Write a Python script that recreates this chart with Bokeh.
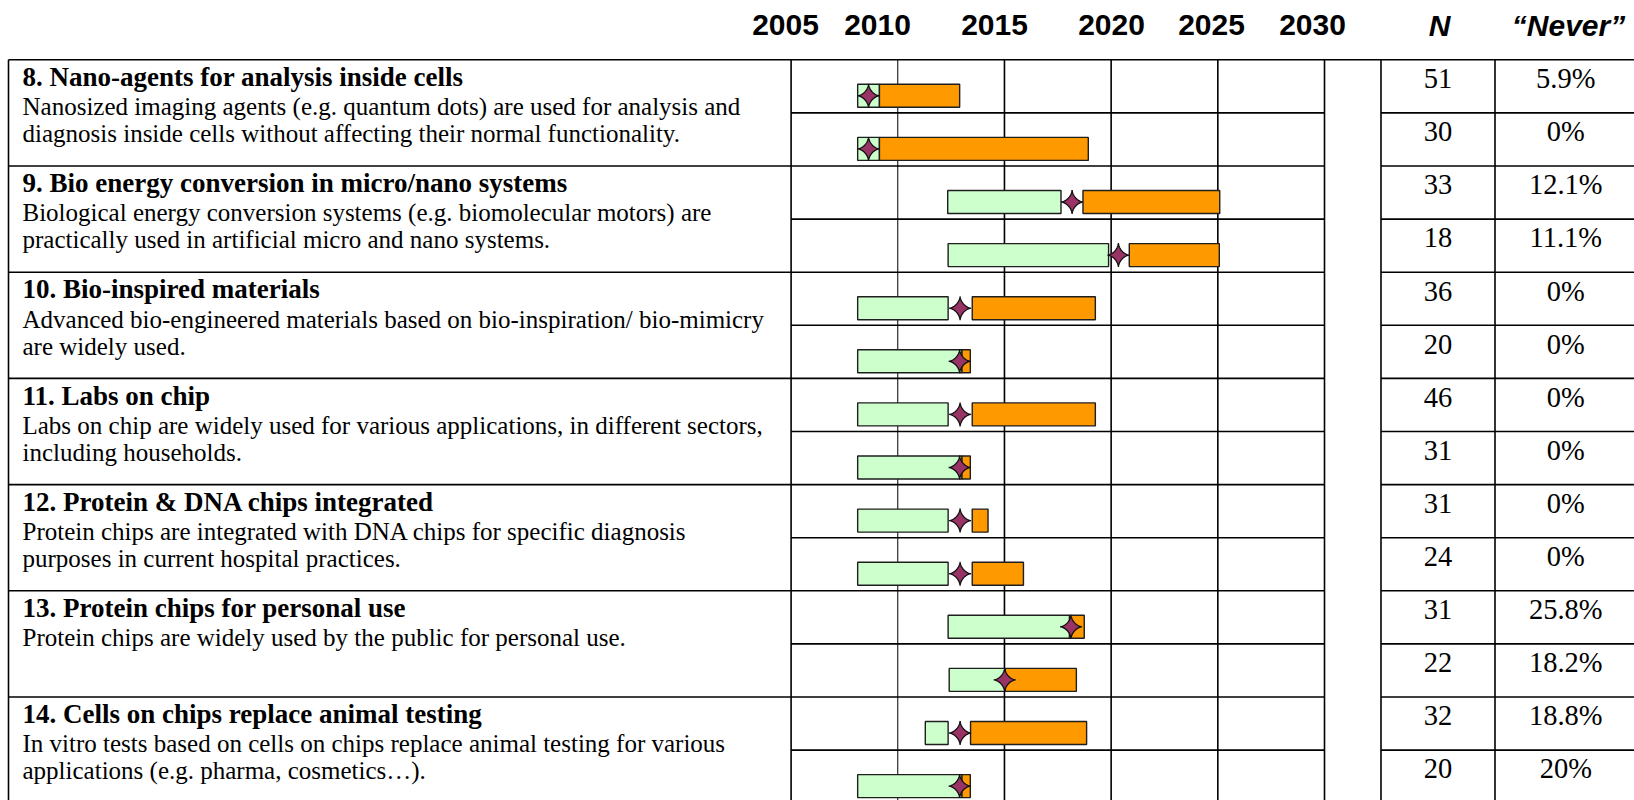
import numpy as np
from bokeh.plotting import figure
from bokeh.models import Range1d
from bokeh.core.properties import value
from bokeh.embed import file_html
from bokeh.resources import INLINE

# ---------------- data ----------------
titles = [
    "8. Nano-agents for analysis inside cells",
    "9. Bio energy conversion in micro/nano systems",
    "10. Bio-inspired materials",
    "11. Labs on chip",
    "12. Protein & DNA chips integrated",
    "13. Protein chips for personal use",
    "14. Cells on chips replace animal testing",
]
descriptions = [
    ["Nanosized imaging agents (e.g. quantum dots) are used for analysis and",
     "diagnosis inside cells without affecting their normal functionality."],
    ["Biological energy conversion systems (e.g. biomolecular motors) are",
     "practically used in artificial micro and nano systems."],
    ["Advanced bio-engineered materials based on bio-inspiration/ bio-mimicry",
     "are widely used."],
    ["Labs on chip are widely used for various applications, in different sectors,",
     "including households."],
    ["Protein chips are integrated with DNA chips for specific diagnosis",
     "purposes in current hospital practices."],
    ["Protein chips are widely used by the public for personal use."],
    ["In vitro tests based on cells on chips replace animal testing for various",
     "applications (e.g. pharma, cosmetics\u2026)."],
]
n_resp = [51, 30, 33, 18, 36, 20, 46, 31, 31, 24, 31, 22, 32, 20]
never_pct = ["5.9%", "0%", "12.1%", "11.1%", "0%", "0%", "0%", "0%",
             "0%", "0%", "25.8%", "18.2%", "18.8%", "20%"]

green_start = [2008.12, 2008.12, 2012.34, 2012.36, 2008.12, 2008.12, 2008.12,
               2008.12, 2008.12, 2008.12, 2012.36, 2012.41, 2011.29, 2008.12]
green_end = [2009.14, 2009.14, 2017.65, 2019.88, 2012.36, 2013.01, 2012.36,
             2013.01, 2012.36, 2012.36, 2018.05, 2015.04, 2012.36, 2013.01]
star_year = [2008.63, 2008.63, 2018.17, 2020.34, 2012.92, 2012.90, 2012.92,
             2012.90, 2012.92, 2012.92, 2018.12, 2015.01, 2012.92, 2012.90]
orange_start = [2009.14, 2009.14, 2018.68, 2020.85, 2013.49, 2013.01, 2013.49,
                2013.01, 2013.49, 2013.49, 2018.05, 2015.04, 2013.41, 2013.01]
orange_end = [2012.90, 2018.93, 2025.09, 2025.07, 2019.26, 2013.40, 2019.26,
              2013.40, 2014.23, 2015.89, 2018.74, 2018.37, 2018.85, 2013.40]

year_ticks = [2005, 2010, 2015, 2020, 2025, 2030]
year_labels = ["2005", "2010", "2015", "2020", "2025", "2030"]
col_labels = ["N", "\u201cNever\u201d"]

# ---------------- layout (page pixels) ----------------
W, H = 1634, 800
X0, Y0 = 0, 0
X_LEFT = 8.0
X2005, X2030 = 790.6, 1324.0
X_NCOL, X_NEVER, X_RIGHT = 1380.5, 1494.5, 1636.0
Y_TOP = 59.3
ROW_H = 53.1
BAR_OFF = 36.0
BAR_H = 23.0
HDR_BASE = 24.8
TITLE_OFF, DESC_OFF, DESC_STEP = 17.2, 46.8, 27.0
NUM_OFF = 18.8
hdr_year_x = [785, 877, 994, 1111, 1211, 1312]
hdr_col_x = [1439, 1568]

PX_PER_YEAR = (X2030 - X2005) / (year_ticks[-1] - year_ticks[0])
yr_start = year_ticks[0] + (X0 - X2005) / PX_PER_YEAR
yr_end = year_ticks[0] + (X0 + W - X2005) / PX_PER_YEAR

p = figure(width=W, height=H, x_range=Range1d(X0, X0 + W), y_range=Range1d(Y0 + H, Y0),
           x_axis_type=None, y_axis_type=None, toolbar_location=None,
           output_backend="svg", min_border=0, outline_line_color=None,
           background_fill_color="white", border_fill_color="white")
p.extra_x_ranges = {"yr": Range1d(yr_start, yr_end)}

n_sub = len(n_resp)
row_tops = [Y_TOP + k * ROW_H for k in range(n_sub + 1)]
LW = 1.6

# horizontal lines
p.segment(x0=[X_LEFT], y0=[Y_TOP], x1=[X_RIGHT], y1=[Y_TOP], line_color="black", line_width=LW)
for k in range(1, n_sub + 1):
    y = row_tops[k]
    if k % 2 == 0:
        p.segment(x0=[X_LEFT], y0=[y], x1=[X2030], y1=[y], line_color="black", line_width=LW)
    else:
        p.segment(x0=[X2005], y0=[y], x1=[X2030], y1=[y], line_color="black", line_width=LW)
    p.segment(x0=[X_NCOL], y0=[y], x1=[X_RIGHT], y1=[y], line_color="black", line_width=LW)

# vertical table lines
y_bot = row_tops[-1]
for xv in [X_LEFT, X_NCOL, X_NEVER]:
    p.segment(x0=[xv], y0=[Y_TOP], x1=[xv], y1=[y_bot], line_color="black", line_width=LW)
# year grid lines (drawn through the year scale)
for yr in year_ticks:
    p.segment(x0=[yr], y0=[Y_TOP], x1=[yr], y1=[y_bot], line_color="black",
              line_width=1.0 if yr == 2010 else LW, x_range_name="yr")

# header labels
p.text(x=hdr_year_x, y=[HDR_BASE] * len(year_labels), text=year_labels,
       text_font=value("Liberation Sans"), text_font_size="30px", text_font_style="bold",
       text_align="center", text_baseline="alphabetic", text_color="black")
p.text(x=hdr_col_x, y=[HDR_BASE] * 2, text=col_labels,
       text_font=value("Liberation Sans"), text_font_size="30px", text_font_style="bold italic",
       text_align="center", text_baseline="alphabetic", text_color="black")

# left column texts
tx, ty, tt = [], [], []
dx, dy, dt = [], [], []
for i, (t, d) in enumerate(zip(titles, descriptions)):
    top = row_tops[2 * i]
    tx.append(22); ty.append(top + TITLE_OFF); tt.append(t)
    for j, line in enumerate(d):
        dx.append(22); dy.append(top + DESC_OFF + DESC_STEP * j); dt.append(line)
p.text(x=tx, y=ty, text=tt, text_font=value("Liberation Serif"), text_font_size="27px",
       text_font_style="bold", text_baseline="alphabetic", text_align="left", text_color="black")
p.text(x=dx, y=dy, text=dt, text_font=value("Liberation Serif"), text_font_size="25px",
       text_baseline="alphabetic", text_align="left", text_color="black")

# N and Never columns
p.text(x=[(X_NCOL + X_NEVER) / 2] * n_sub, y=[row_tops[k] + NUM_OFF for k in range(n_sub)],
       text=[str(v) for v in n_resp], text_font=value("Liberation Serif"), text_font_size="28.5px",
       text_align="center", text_baseline="alphabetic", text_color="black")
p.text(x=[(X_NEVER + X_RIGHT) / 2] * n_sub, y=[row_tops[k] + NUM_OFF for k in range(n_sub)],
       text=never_pct, text_font=value("Liberation Serif"), text_font_size="28.5px",
       text_align="center", text_baseline="alphabetic", text_color="black")

# bars
yc = [row_tops[k] + BAR_OFF for k in range(n_sub)]
p.quad(left=green_start, right=green_end, top=[y - BAR_H / 2 for y in yc],
       bottom=[y + BAR_H / 2 for y in yc], fill_color="#CCFFCC", line_color="#1e1e1e",
       line_width=1.4, x_range_name="yr")
p.quad(left=orange_start, right=orange_end, top=[y - BAR_H / 2 for y in yc],
       bottom=[y + BAR_H / 2 for y in yc], fill_color="#FF9900", line_color="#1e1e1e",
       line_width=1.4, x_range_name="yr")

# four-pointed stars (median)
t = np.linspace(0, 2 * np.pi, 97)
ex = 3.2
ux = np.sign(np.cos(t)) * np.abs(np.cos(t)) ** ex
uy = np.sign(np.sin(t)) * np.abs(np.sin(t)) ** ex
RX, RY = 11.0, 12.0
sxs = [list(s + ux * RX / PX_PER_YEAR) for s in star_year]
sys_ = [list(y + uy * RY) for y in yc]
p.patches(xs=sxs, ys=sys_, fill_color="#993366", line_color="#111111", line_width=1.3,
          x_range_name="yr")

open("out.html", "w").write(file_html(p, INLINE))
